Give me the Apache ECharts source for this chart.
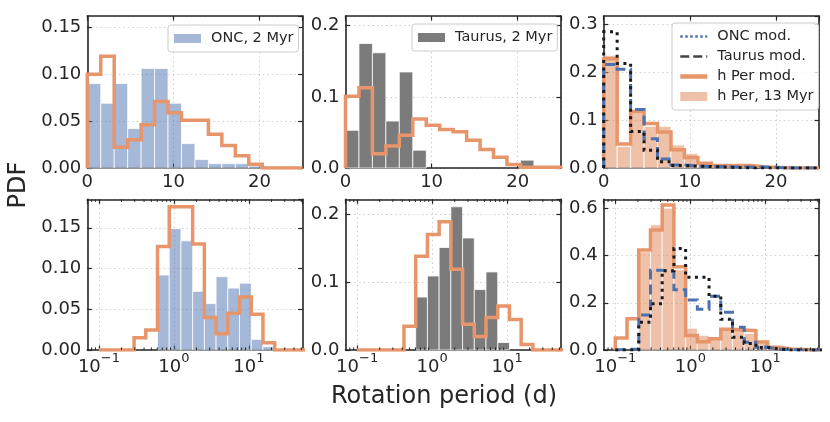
<!DOCTYPE html>
<html>
<head>
<meta charset="utf-8">
<script src="https://cdn.jsdelivr.net/npm/echarts@6/dist/echarts.min.js"></script>
<style>
html, body { margin: 0; padding: 0; background: #fff; }
#container { width: 830px; height: 422px; }
</style>
</head>
<body>
<div id="container"></div>
<script>
// bin edges (top row: linear days, bottom row: log days)
var edgesLin = [0, 1.5625, 3.125, 4.6875, 6.25, 7.8125, 9.375, 10.9375, 12.5, 14.0625, 15.625, 17.1875, 18.75, 20.3125, 21.875, 23.4375, 25];
var edgesLog = [0.1, 0.1433, 0.2054, 0.2943, 0.4217, 0.6043, 0.8660, 1.2409, 1.7783, 2.5482, 3.6517, 5.2330, 7.4989, 10.746, 15.399, 22.067, 31.623, 45.32, 64.94];
var logMinor = [0.08, 0.09, 0.2, 0.3, 0.4, 0.5, 0.6, 0.7, 0.8, 0.9, 2, 3, 4, 5, 6, 7, 8, 9, 20, 30, 40, 50];

// top row
var oncData      = [0.090, 0.069, 0.090, 0.042, 0.106, 0.106, 0.069, 0.026, 0.009, 0.0046, 0.0046, 0.0046, 0.002, 0, 0, 0];
var oncModel     = [0.100, 0.119, 0.022, 0.030, 0.046, 0.071, 0.059, 0.051, 0.051, 0.036, 0.024, 0.013, 0.004, 0, 0, 0];
var taurusData   = [0.053, 0.175, 0.162, 0.066, 0.135, 0.025, 0, 0, 0, 0, 0, 0, 0, 0.011, 0, 0];
var taurusModel  = [0.101, 0.113, 0.020, 0.031, 0.046, 0.069, 0.060, 0.054, 0.051, 0.039, 0.026, 0.015, 0.005, 0.001, 0.001, 0.001];
var hPerData     = [0.235, 0.045, 0.115, 0.087, 0.087, 0.048, 0.030, 0.012, 0.006, 0.004, 0.003, 0, 0, 0, 0, 0];
var hPerModel    = [0.228, 0.050, 0.118, 0.093, 0.075, 0.038, 0.022, 0.010, 0.005, 0.005, 0.005, 0.002, 0.001, 0, 0, 0];
var oncModHPer   = [0.216, 0.206, 0.122, 0.061, 0.019, 0.006, 0.004, 0.003, 0.003, 0.002, 0.002, 0.002, 0.001, 0, 0, 0];
var tauModHPer   = [0.284, 0.218, 0.076, 0.037, 0.013, 0.005, 0.004, 0.003, 0.002, 0.001, 0, 0, 0, 0, 0, 0];

// bottom row
var oncDataLog     = [0, 0, 0, 0, 0, 0.092, 0.149, 0.134, 0.072, 0.057, 0.090, 0.076, 0.082, 0.013, 0.004, 0, 0, 0];
var oncModelLog    = [0, 0, 0, 0.015, 0.0245, 0.127, 0.176, 0.176, 0.130, 0.040, 0.020, 0.045, 0.065, 0.044, 0.009, 0, 0, 0];
var taurusDataLog  = [0, 0, 0, 0, 0, 0.078, 0.109, 0.151, 0.211, 0.165, 0.089, 0.115, 0.011, 0, 0, 0, 0, 0];
var taurusModelLog = [0, 0, 0, 0, 0.035, 0.138, 0.170, 0.189, 0.119, 0.038, 0.020, 0.048, 0.065, 0.045, 0.008, 0, 0, 0];
var hPerDataLog    = [0, 0, 0.416, 0.530, 0.600, 0.340, 0.092, 0.061, 0.050, 0.090, 0.085, 0.070, 0.030, 0.010, 0, 0, 0, 0];
var hPerModelLog   = [0.051, 0.132, 0.423, 0.508, 0.614, 0.352, 0.061, 0.035, 0.048, 0.088, 0.085, 0.082, 0.034, 0.012, 0.004, 0.002, 0, 0];
var oncModHPerLog  = [0.003, 0.003, 0.148, 0.338, 0.332, 0.255, 0.212, 0.172, 0.228, 0.160, 0.096, 0.033, 0.012, 0.004, 0.002, 0, 0, 0];
var tauModHPerLog  = [0, 0, 0.118, 0.196, 0.335, 0.430, 0.308, 0.308, 0.228, 0.130, 0.054, 0.028, 0.011, 0.004, 0, 0, 0, 0];

var FONT = '"DejaVu Sans", sans-serif';
var INK = '#262626';
var ORANGE = '#e6966a';
var BLUE = '#4c72b0';
var BLUE_FILL = 'rgba(76,114,176,0.5)';
var GRAY_FILL = '#7b7b7b';
var HPER_FILL = 'rgba(221,132,82,0.5)';
var BLACK = '#1a1a1a';

var cols = [87.3, 345.5, 603.7];
var rows = [16, 199.3];
var W = 215.3;
var H = [152, 150.7];

var panels = [
  { col: 0, row: 0, log: false, ymax: 0.162, yint: 0.05, dec: 2 },
  { col: 1, row: 0, log: false, ymax: 0.2137, yint: 0.1, dec: 1 },
  { col: 2, row: 0, log: false, ymax: 0.317, yint: 0.1, dec: 1 },
  { col: 0, row: 1, log: true, ymax: 0.185, yint: 0.05, dec: 2 },
  { col: 1, row: 1, log: true, ymax: 0.222, yint: 0.1, dec: 1 },
  { col: 2, row: 1, log: true, ymax: 0.638, yint: 0.2, dec: 1 }
];

var powRich = {
  b: { fontSize: 18, fontFamily: FONT, color: INK, verticalAlign: 'bottom', lineHeight: 24 },
  s: { fontSize: 13, fontFamily: FONT, color: INK, verticalAlign: 'top', lineHeight: 24 }
};

var grids = [], xAxes = [], yAxes = [];
panels.forEach(function (p, i) {
  grids.push({ left: cols[p.col], top: rows[p.row], width: W, height: H[p.row] });
  [false, true].forEach(function (top) {
    var ax = {
      gridIndex: i,
      position: top ? 'top' : 'bottom',
      type: p.log ? 'log' : 'value',
      min: p.log ? 0.07 : 0,
      max: p.log ? 52 : 25,
      axisLine: { onZero: false, lineStyle: { color: INK, width: 1.6 } },
      axisTick: { inside: true, length: 4.5, lineStyle: { color: INK, width: 1.2 } },
      splitLine: { show: !top, lineStyle: { type: [1.5, 3], color: '#cfcfcf', width: 1 } },
      axisLabel: top ? { show: false } : {
        show: true, margin: p.log ? 2 : 5, fontSize: 18, fontFamily: FONT, color: INK,
        showMaxLabel: false, showMinLabel: p.log ? false : true,
        rich: powRich,
        formatter: p.log ? function (v) {
          var l = Math.log10(v), n = Math.round(l);
          if (Math.abs(l - n) > 1e-6) return '';
          return '{b|10}{s|' + (n < 0 ? '\u2212' + (-n) : n) + '}';
        } : function (v) { return String(v); }
      }
    };
    if (p.log) ax.logBase = 10; else ax.interval = 10;
    xAxes.push(ax);
    yAxes.push({
      gridIndex: i,
      position: top ? 'right' : 'left',
      type: 'value', min: 0, max: p.ymax, interval: p.yint,
      axisLine: { onZero: false, lineStyle: { color: INK, width: 1.6 } },
      axisTick: { inside: true, length: 4.5, lineStyle: { color: INK, width: 1.2 } },
      splitLine: { show: !top, lineStyle: { type: [1.5, 3], color: '#cfcfcf', width: 1 } },
      axisLabel: top ? { show: false } : {
        show: true, margin: 6, fontSize: 18, fontFamily: FONT, color: INK,
        showMaxLabel: false,
        formatter: (function (d) { return function (v) { return v.toFixed(d); }; })(p.dec)
      }
    });
  });
});

function bars(i, name, edges, vals, color) {
  return {
    type: 'custom', name: name, xAxisIndex: 2 * i, yAxisIndex: 2 * i, z: 2, silent: true,
    itemStyle: { color: color },
    data: vals.map(function (v, k) { return [edges[k], edges[k + 1], v]; }),
    encode: { x: [0, 1], y: 2 },
    renderItem: function (params, api) {
      if (!api.value(2)) return null;
      var p0 = api.coord([api.value(0), 0]);
      var p1 = api.coord([api.value(1), api.value(2)]);
      return {
        type: 'rect',
        shape: { x: p0[0], y: p1[1], width: p1[0] - p0[0], height: p0[1] - p1[1] },
        style: { fill: color, stroke: 'rgba(255,255,255,0.75)', lineWidth: 1 }
      };
    }
  };
}

function stepLine(i, name, edges, vals, color, width, type, z) {
  var pts = [[edges[0], 0]];
  vals.forEach(function (v, k) { pts.push([edges[k], v]); pts.push([edges[k + 1], v]); });
  pts.push([edges[vals.length], 0]);
  return {
    type: 'line', name: name, xAxisIndex: 2 * i, yAxisIndex: 2 * i, z: z, silent: true,
    data: pts, symbol: 'none', showSymbol: false, clip: true,
    itemStyle: { color: color },
    lineStyle: { color: color, width: width, type: type, cap: 'butt', join: 'miter' }
  };
}

function legendLine(name, color, width, type) {
  return {
    type: 'line', name: name, xAxisIndex: 4, yAxisIndex: 4, data: [], symbol: 'none',
    itemStyle: { color: color }, lineStyle: { color: color, width: width, type: type }
  };
}

function minorTicks(i) {
  return {
    type: 'custom', xAxisIndex: 2 * i, yAxisIndex: 2 * i, z: 6, silent: true,
    data: logMinor.map(function (v) { return [v, 0]; }),
    encode: { x: 0, y: 1 },
    renderItem: function (params, api) {
      var x = api.coord([api.value(0), 0])[0];
      var cs = params.coordSys;
      var st = { stroke: INK, lineWidth: 1 };
      return {
        type: 'group', children: [
          { type: 'line', shape: { x1: x, y1: cs.y + cs.height, x2: x, y2: cs.y + cs.height - 2.6 }, style: st },
          { type: 'line', shape: { x1: x, y1: cs.y, x2: x, y2: cs.y + 2.6 }, style: st }
        ]
      };
    }
  };
}

var series = [
  bars(0, 'ONC, 2 Myr', edgesLin, oncData, BLUE_FILL),
  stepLine(0, 'ONC model', edgesLin, oncModel, ORANGE, 3.5, 'solid', 4),
  bars(1, 'Taurus, 2 Myr', edgesLin, taurusData, GRAY_FILL),
  stepLine(1, 'Taurus model', edgesLin, taurusModel, ORANGE, 3.5, 'solid', 4),
  bars(2, 'h Per, 13 Myr', edgesLin, hPerData, HPER_FILL),
  stepLine(2, 'h Per model top', edgesLin, hPerModel, ORANGE, 3.5, 'solid', 3),
  stepLine(2, 'ONC model top', edgesLin, oncModHPer, BLUE, 3, [10, 5], 4),
  stepLine(2, 'Taurus model top', edgesLin, tauModHPer, BLACK, 3, [3, 4.5], 5),
  bars(3, 'ONC log', edgesLog, oncDataLog, BLUE_FILL),
  stepLine(3, 'ONC model log', edgesLog, oncModelLog, ORANGE, 3.5, 'solid', 4),
  bars(4, 'Taurus log', edgesLog, taurusDataLog, GRAY_FILL),
  stepLine(4, 'Taurus model log', edgesLog, taurusModelLog, ORANGE, 3.5, 'solid', 4),
  bars(5, 'h Per log', edgesLog, hPerDataLog, HPER_FILL),
  stepLine(5, 'h Per model log', edgesLog, hPerModelLog, ORANGE, 3.5, 'solid', 3),
  stepLine(5, 'ONC model hPer log', edgesLog, oncModHPerLog, BLUE, 3, [10, 5], 4),
  stepLine(5, 'Taurus model hPer log', edgesLog, tauModHPerLog, BLACK, 3, [3, 4.5], 5),
  legendLine('ONC mod.', BLUE, 2.5, [2.5, 2.5]),
  legendLine('Taurus mod.', '#444444', 2.5, [9, 4]),
  legendLine('h Per mod.', ORANGE, 4, 'solid'),
  minorTicks(3), minorTicks(4), minorTicks(5)
];

var legendBase = {
  itemWidth: 27, itemHeight: 9, padding: [6, 5, 6, 6], selectedMode: false,
  borderColor: '#cccccc', borderWidth: 1, borderRadius: 3,
  backgroundColor: 'rgba(255,255,255,0.8)',
  textStyle: { fontFamily: FONT, fontSize: 14.5, color: INK, padding: [0, 0, 0, 5] }
};
function legendAt(extra) {
  var o = {};
  Object.keys(legendBase).forEach(function (k) { o[k] = legendBase[k]; });
  Object.keys(extra).forEach(function (k) { o[k] = extra[k]; });
  return o;
}
var noMarker = { color: 'rgba(0,0,0,0)', borderWidth: 0, opacity: 0 };

var dom = document.getElementById('container');
var myChart = echarts.init(dom, null, { renderer: 'canvas' });
var option = {
  animation: false,
  backgroundColor: '#ffffff',
  grid: grids,
  xAxis: xAxes,
  yAxis: yAxes,
  legend: [
    legendAt({ data: [{ name: 'ONC, 2 Myr', icon: 'rect' }], left: 168, top: 25 }),
    legendAt({ data: [{ name: 'Taurus, 2 Myr', icon: 'rect' }], left: 412, top: 24 }),
    legendAt({
      data: [
        { name: 'ONC mod.', itemStyle: noMarker, lineStyle: { width: 2.5 } },
        { name: 'Taurus mod.', itemStyle: noMarker, lineStyle: { width: 2.5 } },
        { name: 'h Per mod.', itemStyle: noMarker, lineStyle: { width: 4.5 } },
        { name: 'h Per, 13 Myr', icon: 'rect' }
      ],
      left: 672, top: 23, orient: 'vertical', itemGap: 5
    })
  ],
  graphic: [
    { type: 'text', x: 444, y: 397, style: { text: 'Rotation period (d)', font: '24px "DejaVu Sans"', fill: INK, align: 'center', verticalAlign: 'middle' } },
    { type: 'text', x: 19, y: 185, rotation: Math.PI / 2, style: { text: 'PDF', font: '24px "DejaVu Sans"', fill: INK, align: 'center', verticalAlign: 'middle' } }
  ],
  series: series
};
myChart.setOption(option);
window.addEventListener('resize', myChart.resize);
</script>
</body>
</html>
